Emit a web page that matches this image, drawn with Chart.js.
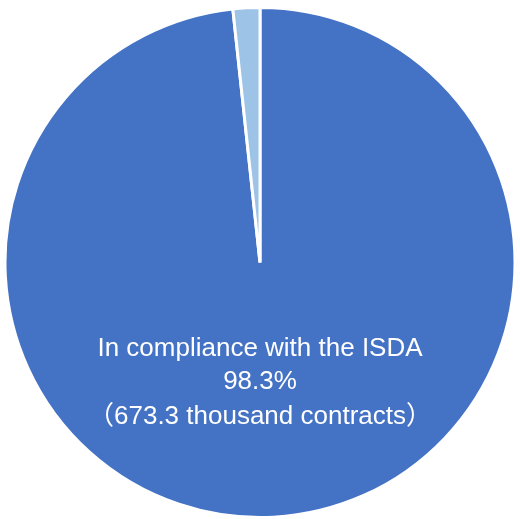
<!DOCTYPE html>
<html>
<head>
<meta charset="utf-8">
<script src="https://cdn.jsdelivr.net/npm/chart.js@4/dist/chart.umd.min.js"></script>
<style>
html,body{margin:0;padding:0;background:#fff;}
#wrap{width:520px;height:519px;position:relative;}
</style>
</head>
<body>
<div id="wrap"><canvas id="c" width="520" height="519"></canvas></div>
<script>
const categories = ["In compliance with the ISDA", "Other"];
const shares = [98.3, 1.7];
const contracts = ["673.3 thousand contracts", ""];
const colors = ["#4472C4", "#9DC3E6"];

const labelPlugin = {
  id: 'sliceLabel',
  afterDatasetsDraw(chart) {
    const ctx = chart.ctx;
    const arc = chart.getDatasetMeta(0).data[0];
    const cx = arc.x, cy = arc.y;
    ctx.save();
    ctx.fillStyle = '#ffffff';
    ctx.textAlign = 'center';
    ctx.textBaseline = 'alphabetic';
    ctx.font = '26px "Liberation Sans", Arial, "Noto Sans CJK JP", sans-serif';
    const lines = [categories[0], shares[0].toFixed(1) + '%', '（' + contracts[0] + '）'];
    const ys = [cy + 93, cy + 126, cy + 161];
    lines.forEach((t, i) => ctx.fillText(t, cx, ys[i]));
    ctx.restore();
  }
};

new Chart(document.getElementById('c'), {
  type: 'pie',
  data: {
    labels: categories,
    datasets: [{
      data: shares,
      backgroundColor: colors,
      borderColor: '#ffffff',
      borderWidth: 3
    }]
  },
  options: {
    responsive: false,
    animation: false,
    layout: { padding: { left: 3, right: 3, top: 6, bottom: 0 } },
    plugins: { legend: { display: false }, tooltip: { enabled: false } }
  },
  plugins: [labelPlugin]
});
</script>
</body>
</html>
